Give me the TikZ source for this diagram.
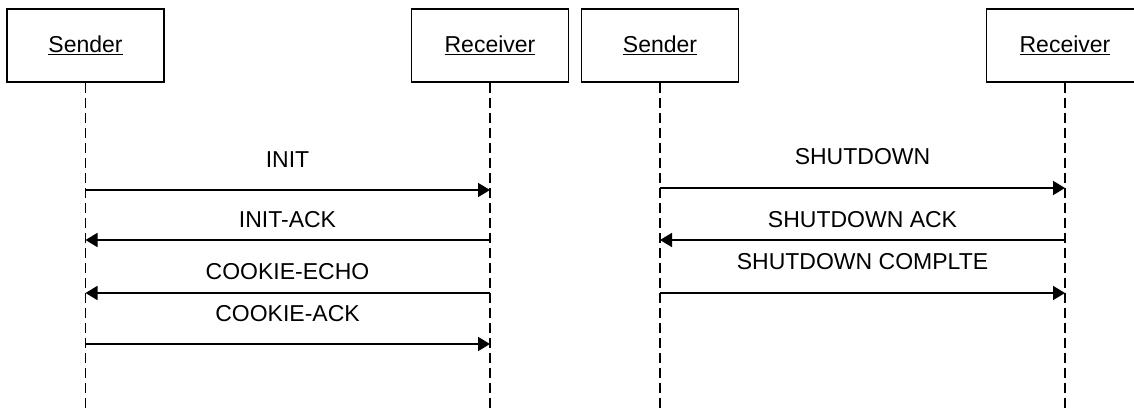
\documentclass[tikz,border=0pt]{standalone}
\usepackage{fontspec}
\setmainfont{Liberation Sans}
\usetikzlibrary{arrows.meta}
\begin{document}
\begin{tikzpicture}[x=1pt,y=-1pt,
  actor/.style={draw,line width=1.6pt,minimum width=157pt,minimum height=73pt,
    inner sep=0pt,font=\fontsize{23}{27}\selectfont},
  lifeline/.style={dash pattern=on 10pt off 5pt,line width=1.3pt},
  msg/.style={line width=1.8pt,-{Triangle[length=12pt,width=14pt]}},
  lbl/.style={anchor=base,inner sep=0pt,font=\fontsize{23}{27}\selectfont}]
\clip (0,0) rectangle (1134,410);

% participants
\node[actor] (s1) at (85.5,45.5) {\underline{Sender}};
\node[actor] (r1) at (490,45.5)  {\underline{Receiver}};
\node[actor] (s2) at (660,45.5)  {\underline{Sender}};
\node[actor] (r2) at (1065,45.5) {\underline{Receiver}};

% lifelines
\foreach \p in {s1,r1,s2,r2}{
  \coordinate (\p end) at (\p.south |- 0,412);
  \draw[lifeline] (\p.south) -- (\p end);
}

% message end points on the lifelines
\foreach \p in {s1,r1}{
  \coordinate (\p m1) at (\p.south |- 0,190);
  \coordinate (\p m2) at (\p.south |- 0,240);
  \coordinate (\p m3) at (\p.south |- 0,293);
  \coordinate (\p m4) at (\p.south |- 0,344);
}
\foreach \p in {s2,r2}{
  \coordinate (\p m1) at (\p.south |- 0,188);
  \coordinate (\p m2) at (\p.south |- 0,240);
  \coordinate (\p m3) at (\p.south |- 0,293);
}

% association set-up
\draw[msg] (s1m1) -- (r1m1);
\draw[msg] (r1m2) -- (s1m2);
\draw[msg] (r1m3) -- (s1m3);
\draw[msg] (s1m4) -- (r1m4);
\node[lbl] (l1) at (287.5,167) {INIT};
\node[lbl] (l2) at (287.5,227) {INIT-ACK};
\node[lbl] (l3) at (287.5,279) {COOKIE-ECHO};
\node[lbl] (l4) at (287.5,321) {COOKIE-ACK};

% association shutdown
\draw[msg] (s2m1) -- (r2m1);
\draw[msg] (r2m2) -- (s2m2);
\draw[msg] (s2m3) -- (r2m3);
\node[lbl] (k1) at (862.5,164) {SHUTDOWN};
\node[lbl] (k2) at (862.5,227) {SHUTDOWN ACK};
\node[lbl] (k3) at (862.5,269) {SHUTDOWN COMPLTE};
\end{tikzpicture}
\end{document}
